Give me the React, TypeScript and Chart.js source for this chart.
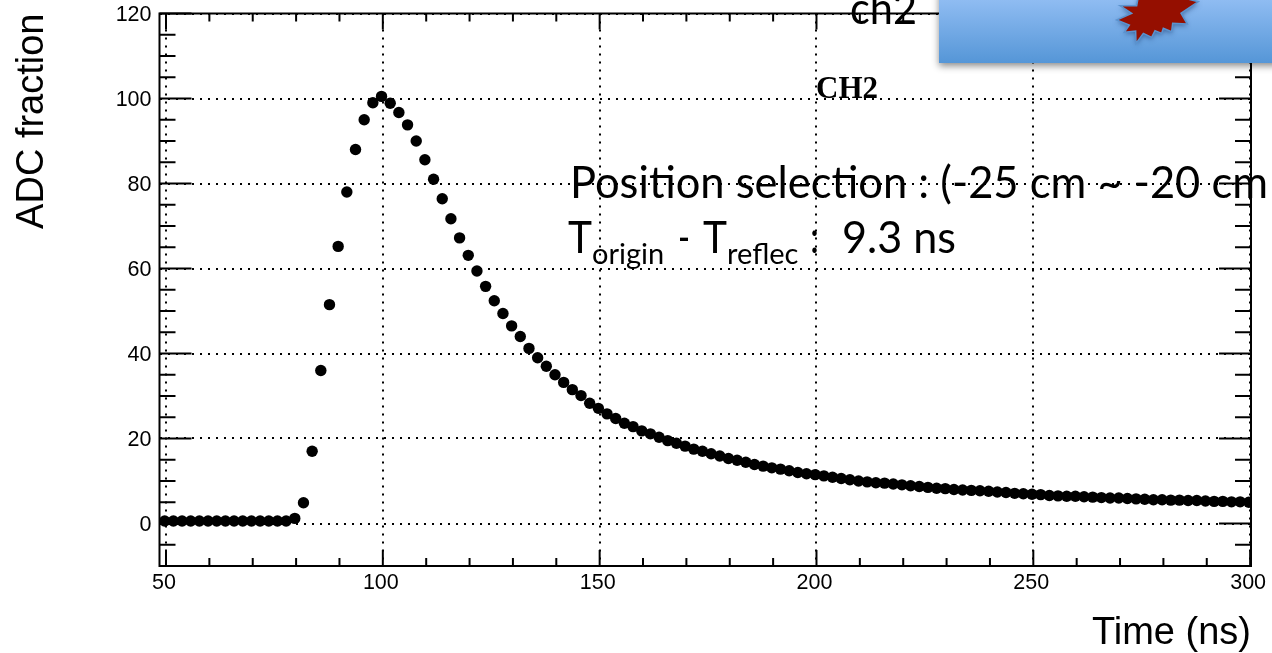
import React, { useEffect, useRef } from "react";
import { Chart, registerables } from "chart.js";

Chart.register(...registerables);

const timeNs = [
  49.7, 51.7, 53.7, 55.7, 57.7, 59.7, 61.7, 63.7, 65.7, 67.7, 69.7, 71.7, 73.7, 75.7, 77.7, 79.7,
  81.7, 83.7, 85.7, 87.7, 89.7, 91.7, 93.7, 95.7, 97.7, 99.7, 101.7, 103.7, 105.7, 107.7, 109.7,
  111.7, 113.7, 115.7, 117.7, 119.7, 121.7, 123.7, 125.7, 127.7, 129.7, 131.7, 133.7, 135.7, 137.7,
  139.7, 141.7, 143.7, 145.7, 147.7,
  149.7, 151.7, 153.7, 155.7, 157.7, 159.7, 161.7, 163.7, 165.7, 167.7,
  169.7, 171.7, 173.7, 175.7, 177.7, 179.7, 181.7, 183.7, 185.7, 187.7,
  189.7, 191.7, 193.7, 195.7, 197.7, 199.7,
  201.7, 203.7, 205.7, 207.7, 209.7, 211.7, 213.7, 215.7, 217.7, 219.7,
  221.7, 223.7, 225.7, 227.7, 229.7, 231.7, 233.7, 235.7, 237.7, 239.7,
  241.7, 243.7, 245.7, 247.7, 249.7, 251.7, 253.7, 255.7, 257.7, 259.7,
  261.7, 263.7, 265.7, 267.7, 269.7, 271.7, 273.7, 275.7, 277.7, 279.7,
  281.7, 283.7, 285.7, 287.7, 289.7, 291.7, 293.7, 295.7, 297.7, 299.7,
];
const adcFraction = [
  0.6, 0.6, 0.6, 0.6, 0.6, 0.6, 0.6, 0.6, 0.6, 0.6, 0.6, 0.6, 0.6, 0.6, 0.6, 1.2,
  4.9, 17, 36, 51.5, 65.2, 78, 88, 95, 99, 100.5, 98.9, 96.7, 93.8, 90, 85.6,
  81, 76.4, 71.7, 67.2, 63.1, 59.4, 55.8, 52.4, 49.4, 46.5, 44, 41.2, 39, 37,
  35, 33.2, 31.5, 30.1, 28.3,
  27.1, 25.8, 24.7, 23.6, 22.8, 21.8, 21.1, 20.3, 19.5, 18.9,
  18.2, 17.5, 17, 16.4, 15.9, 15.3, 14.9, 14.4, 13.9, 13.5,
  13.1, 12.8, 12.4, 12, 11.7, 11.5,
  11.2, 10.9, 10.6, 10.3, 10, 9.8, 9.6, 9.5, 9.3, 9.1,
  8.9, 8.7, 8.5, 8.3, 8.2, 8, 7.9, 7.8, 7.7, 7.6,
  7.4, 7.3, 7.1, 7, 6.9, 6.8, 6.6, 6.5, 6.4, 6.4,
  6.3, 6.2, 6.1, 6, 6, 5.9, 5.8, 5.7, 5.6, 5.6,
  5.5, 5.5, 5.4, 5.4, 5.3, 5.2, 5.2, 5.1, 5.1, 5,
];
const xMajorTicks = [50, 100, 150, 200, 250, 300];
const xMinorTicks = [60, 70, 80, 90, 110, 120, 130, 140, 160, 170, 180, 190, 210, 220, 230, 240, 260, 270, 280, 290];
const yMajorTicks = [0, 20, 40, 60, 80, 100, 120];
const yMinorTicks = [-5, 5, 10, 15, 25, 30, 35, 45, 50, 55, 65, 70, 75, 85, 90, 95, 105, 110, 115];

const xTitle = "Time (ns)";
const yTitle = "ADC fraction";
const positionText = "Position selection : (-25 cm ~ -20 cm";
const channelText = "ch2";
const channelLabel = "CH2";

const WIDTH = 1272;
const HEIGHT = 653;
const SANS = '"Liberation Sans", Arial, sans-serif';
const SLIDE = 'Lato, "Open Sans", sans-serif';

const frameAndNotes = {
  id: "frameAndNotes",
  afterDraw(chart: any) {
    const { ctx, chartArea: a, scales } = chart;
    const x = scales.x;
    const y = scales.y;
    ctx.save();
    ctx.strokeStyle = "#000";
    ctx.lineWidth = 2;
    ctx.setLineDash([]);
    const seg = (x1: number, y1: number, x2: number, y2: number) => {
      ctx.beginPath();
      ctx.moveTo(x1, y1);
      ctx.lineTo(x2, y2);
      ctx.stroke();
    };
    ctx.strokeRect(a.left, a.top, a.right - a.left, a.bottom - a.top);
    for (const v of xMajorTicks) {
      const p = x.getPixelForValue(v);
      seg(p, a.bottom, p, a.bottom - 16);
      seg(p, a.top, p, a.top + 16);
    }
    for (const v of xMinorTicks) {
      const p = x.getPixelForValue(v);
      seg(p, a.bottom, p, a.bottom - 8);
      seg(p, a.top, p, a.top + 8);
    }
    for (const v of yMajorTicks) {
      const p = y.getPixelForValue(v);
      seg(a.left, p, a.left + 32, p);
      seg(a.right, p, a.right - 32, p);
    }
    for (const v of yMinorTicks) {
      const p = y.getPixelForValue(v);
      seg(a.left, p, a.left + 16, p);
      seg(a.right, p, a.right - 16, p);
    }

    // slide banner
    ctx.save();
    ctx.shadowColor = "rgba(0,0,0,0.45)";
    ctx.shadowBlur = 7;
    ctx.shadowOffsetY = 3;
    const grad = ctx.createLinearGradient(0, 0, 0, 63);
    grad.addColorStop(0, "#8fbcf2");
    grad.addColorStop(1, "#5596d7");
    ctx.fillStyle = grad;
    ctx.fillRect(939, -10, 340, 73);
    ctx.restore();

    // burst on banner
    const star = [
      [60, 17], [95, 40], [50, 60], [88, 75], [73, 97], [107, 93], [108, 130], [130, 100],
      [155, 112], [165, 92], [185, 100], [190, 85], [215, 95], [218, 70], [262, 72], [243, 40],
      [295, 5], [235, -10], [115, -10], [110, 17],
    ];
    ctx.save();
    ctx.shadowColor = "rgba(20,50,100,0.55)";
    ctx.shadowBlur = 5;
    ctx.shadowOffsetY = 2;
    ctx.beginPath();
    star.forEach(([sx, sy], i) => {
      const px = 1100 + sx / 3;
      const py = sy / 3;
      if (i === 0) ctx.moveTo(px, py);
      else ctx.lineTo(px, py);
    });
    ctx.closePath();
    ctx.fillStyle = "#950f00";
    ctx.fill();
    ctx.shadowColor = "transparent";
    ctx.strokeStyle = "#5b93cf";
    ctx.lineWidth = 1.5;
    ctx.stroke();
    ctx.restore();

    // overlaid texts
    ctx.fillStyle = "#000";
    ctx.textAlign = "left";
    ctx.textBaseline = "alphabetic";
    ctx.font = `44px ${SLIDE}`;
    ctx.fillText(channelText, 850, 24, 67);
    ctx.font = `bold 31px "Liberation Serif", serif`;
    ctx.fillText(channelLabel, 816, 98, 62);
    ctx.font = `44px ${SLIDE}`;
    ctx.fillText(positionText, 570, 198, 698);
    ctx.fillText("T", 568, 253, 24);
    ctx.fillText("-", 678, 253, 12);
    ctx.fillText("T", 703, 253, 24);
    ctx.fillText(":", 810, 253, 9);
    ctx.fillText("9.3 ns", 842, 253, 114);
    ctx.font = `29px ${SLIDE}`;
    ctx.fillText("origin", 592, 264, 73);
    ctx.fillText("reflec", 727, 264, 73);
    ctx.restore();
  },
};

export default function App() {
  const ref = useRef<HTMLCanvasElement | null>(null);
  useEffect(() => {
    if (!ref.current) return;
    const gridStyle = { color: "#000", lineWidth: 2, drawTicks: false, tickLength: 0 };
    const borderStyle = { display: false, dash: [2, 6] };
    const tickFont = { family: SANS, size: 21.5 };
    const titleFont = { family: SANS, size: 38 };
    const chart = new Chart(ref.current, {
      type: "scatter",
      data: {
        datasets: [
          {
            label: "CH2",
            data: timeNs.map((t, i) => ({ x: t, y: adcFraction[i] })),
            backgroundColor: "#000",
            borderWidth: 0,
            pointRadius: 5.7,
          },
        ],
      },
      plugins: [frameAndNotes],
      options: {
        responsive: false,
        animation: false,
        events: [],
        layout: { padding: { top: 13.5, right: 21, left: 0, bottom: 0 } },
        plugins: { legend: { display: false }, tooltip: { enabled: false }, title: { display: false } },
        scales: {
          x: {
            type: "linear",
            min: 48.5,
            max: 300.2,
            afterBuildTicks: (s: any) => {
              s.ticks = xMajorTicks.map((value) => ({ value }));
            },
            afterFit: (s: any) => {
              s.height = 87;
              s.paddingLeft = 0;
              s.paddingRight = 0;
            },
            grid: gridStyle,
            border: borderStyle,
            ticks: {
              color: "#000",
              font: tickFont,
              padding: 4,
              labelOffset: -2,
              autoSkip: false,
              maxRotation: 0,
              callback: (v: any) => String(v),
            },
            title: {
              display: true,
              text: xTitle,
              align: "end",
              color: "#000",
              font: titleFont,
              padding: { top: 0, bottom: -3 },
            },
          },
          y: {
            type: "linear",
            min: -10,
            max: 120,
            afterBuildTicks: (s: any) => {
              s.ticks = yMajorTicks.map((value) => ({ value }));
            },
            afterFit: (s: any) => {
              s.width = 159.5;
              s.paddingTop = 0;
              s.paddingBottom = 0;
            },
            grid: gridStyle,
            border: borderStyle,
            ticks: {
              color: "#000",
              font: tickFont,
              padding: 8,
              labelOffset: 2,
              autoSkip: false,
              callback: (v: any) => String(v),
            },
            title: {
              display: true,
              text: yTitle,
              align: "end",
              color: "#000",
              font: titleFont,
              padding: { top: 10, bottom: 0 },
            },
          },
        },
      },
    } as any);
    return () => chart.destroy();
  }, []);
  return (
    <div style={{ position: "absolute", left: 0, top: 0, width: WIDTH, height: HEIGHT, overflow: "hidden", background: "#fff" }}>
      <canvas ref={ref} width={WIDTH} height={HEIGHT} style={{ display: "block" }} />
    </div>
  );
}
